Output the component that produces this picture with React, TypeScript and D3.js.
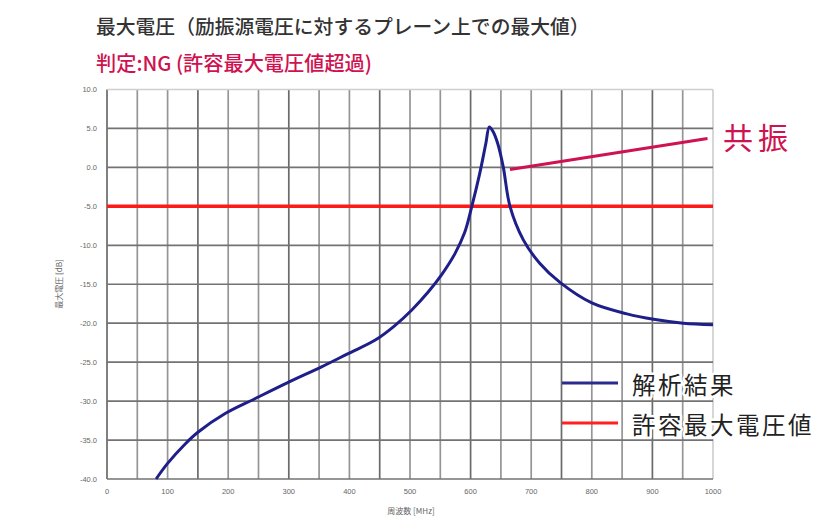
import * as d3 from "d3";
import React from "react";

// analysis result (frequency MHz / max voltage dB)
const freqs = [81, 100, 129, 150, 195, 244, 299, 354, 398, 442, 475, 503, 530, 552, 574, 590, 602, 615, 625, 631, 637, 645, 654, 665, 687, 714, 748, 800, 858, 902, 951, 1000];
const volts = [-40, -38, -35.5, -34, -31.6, -29.7, -27.6, -25.6, -23.9, -22.2, -20.3, -18.3, -16.0, -13.8, -11.1, -8.4, -5, -0.8, 3.0, 5.2, 4.6, 3.0, 0.0, -5, -9.3, -12.3, -14.8, -17.4, -18.8, -19.5, -20.0, -20.2];
const limitValue = -5;

const xTicks = [0, 100, 200, 300, 400, 500, 600, 700, 800, 900, 1000];
const xGrid = d3.range(0, 1001, 50);
const yTicks = [10, 5, 0, -5, -10, -15, -20, -25, -30, -35, -40];

const titleText = "最大電圧（励振源電圧に対するプレーン上での最大値）";
const judgeText = "判定:NG (許容最大電圧値超過)";
const legendLabels = ["解析結果", "許容最大電圧値"];
const calloutText = "共振";
const xTitle = "周波数 [MHz]";
const yTitle = "最大電圧 [dB]";

const W = 840;
const H = 530;
const margin = { left: 107, right: 127, top: 89.5, bottom: 51 };
const cjk = "'Noto Sans CJK JP', 'Noto Sans', sans-serif";
const crimson = "#cf1250";

export default function App() {
  const x = d3.scaleLinear().domain([0, 1000]).range([margin.left, W - margin.right]);
  const y = d3.scaleLinear().domain([-40, 10]).range([H - margin.bottom, margin.top]);

  const line = d3
    .line<number>()
    .x((_, i) => x(freqs[i]))
    .y((d) => y(d))
    .curve(d3.curveCatmullRom.alpha(0.5));

  return (
    <svg width={W} height={H} style={{ position: "absolute", left: 0, top: 0, background: "#fff" }}>
      {/* titles */}
      <text x={96} y={33.5} fontFamily={cjk} fontSize={19.8} fontWeight={500} fill="#333">
        {titleText}
      </text>
      <text x={96} y={71} fontFamily={cjk} fontSize={20.2} fontWeight={500} fill={crimson}>
        {judgeText}
      </text>

      {/* grid */}
      {xGrid.map((v) => (
        <line
          key={"vx" + v}
          x1={x(v)}
          x2={x(v)}
          y1={y(10)}
          y2={y(-40)}
          stroke={v === 1000 ? "#cfcfcf" : v % 150 === 0 ? "#6a6a6a" : "#959595"}
          strokeWidth={1.7}
        />
      ))}
      {yTicks.map((v) => (
        <line
          key={"hy" + v}
          x1={x(0)}
          x2={x(1000)}
          y1={y(v)}
          y2={y(v)}
          stroke={v === 10 ? "#cfcfcf" : "#737373"}
          strokeWidth={1.7}
        />
      ))}

      {/* tick labels */}
      {yTicks.map((v) => (
        <text key={"ty" + v} x={97} y={y(v)} dy="0.35em" textAnchor="end" fontFamily="Arial, 'Liberation Sans', sans-serif" fontSize={7.5} fill="#666">
          {v.toFixed(1)}
        </text>
      ))}
      {xTicks.map((v) => (
        <text key={"tx" + v} x={x(v)} y={491} dy="0.35em" textAnchor="middle" fontFamily="Arial, 'Liberation Sans', sans-serif" fontSize={7.5} fill="#666">
          {v}
        </text>
      ))}
      <text x={411} y={511} dy="0.35em" textAnchor="middle" fontFamily={cjk} fontSize={8} fill="#666">
        {xTitle}
      </text>
      <text transform="translate(59,284) rotate(-90)" dy="0.35em" textAnchor="middle" fontFamily={cjk} fontSize={8} fill="#666">
        {yTitle}
      </text>

      {/* limit line */}
      <line x1={x(0)} x2={x(1000)} y1={y(limitValue)} y2={y(limitValue)} stroke="#ff1a1a" strokeWidth={3.5} />

      {/* analysis curve */}
      <path d={line(volts) ?? ""} fill="none" stroke="#1f1f8a" strokeWidth={3} strokeLinejoin="round" />

      {/* resonance callout */}
      <line x1={510} y1={169.5} x2={707.5} y2={138.5} stroke={crimson} strokeWidth={3} />
      <text x={723} y={149} fontFamily={cjk} fontSize={30} letterSpacing={5} fill={crimson}>
        {calloutText}
      </text>

      {/* legend */}
      <g>
        <line x1={562} x2={618} y1={383} y2={383} stroke="#2a2a90" strokeWidth={3} />
        <line x1={562} x2={618} y1={423} y2={423} stroke="#ff2020" strokeWidth={3} />
        {legendLabels.map((t, i) => (
          <text
            key={t}
            x={632}
            y={394 + i * 40}
            fontFamily={cjk}
            fontSize={23.5}
            letterSpacing={2.5}
            fill="#222"
            stroke="#fff"
            strokeWidth={5}
            strokeLinejoin="round"
            style={{ paintOrder: "stroke" }}
          >
            {t}
          </text>
        ))}
      </g>
    </svg>
  );
}
